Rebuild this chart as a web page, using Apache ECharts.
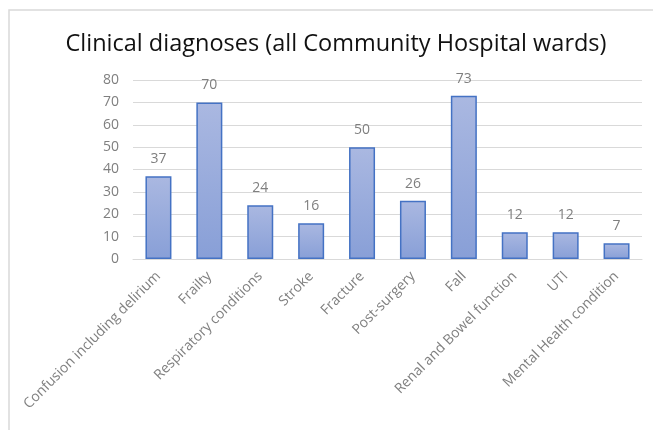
<!DOCTYPE html>
<html>
<head>
<meta charset="utf-8">
<script src="https://cdn.jsdelivr.net/npm/echarts@6/dist/echarts.min.js"></script>
<style>
  html, body { margin: 0; padding: 0; background: #ffffff; }
  #chart { width: 653px; height: 430px; }
</style>
</head>
<body>
<div id="chart"></div>
<script>
// Diagnosis categories and patient counts
const categories = [
  'Confusion including delirium',
  'Frailty',
  'Respiratory conditions',
  'Stroke',
  'Fracture',
  'Post-surgery',
  'Fall',
  'Renal and Bowel function',
  'UTI',
  'Mental Health condition'
];
const counts = [37, 70, 24, 16, 50, 26, 73, 12, 12, 7];
const yTicks = { min: 0, max: 80, interval: 10 };

const chart = echarts.init(document.getElementById('chart'), null, { renderer: 'canvas' });

const font = '"Open Sans", "Noto Sans", sans-serif';

chart.setOption({
  animation: false,
  backgroundColor: '#ffffff',
  graphic: [{
    type: 'rect',
    shape: { x: 9, y: 10, width: 700, height: 500 },
    style: { fill: 'none', stroke: '#d9d9d9', lineWidth: 1.5 },
    silent: true
  }],
  title: {
    text: 'Clinical diagnoses (all Community Hospital wards)',
    left: 331,
    textAlign: 'center',
    top: 27,
    textStyle: { fontFamily: font, fontSize: 23.5, fontWeight: 'normal', color: '#111111' }
  },
  grid: { left: 133, right: 11, top: 80, bottom: 171, containLabel: false },
  xAxis: {
    type: 'category',
    data: categories,
    axisLine: { show: true, lineStyle: { color: '#d9d9d9', width: 1 } },
    axisTick: { show: false },
    axisLabel: {
      interval: 0,
      rotate: 45,
      margin: 15,
      fontFamily: font,
      fontSize: 14,
      color: '#808080'
    }
  },
  yAxis: {
    type: 'value',
    min: yTicks.min,
    max: yTicks.max,
    interval: yTicks.interval,
    axisLine: { show: false },
    axisTick: { show: false },
    splitLine: { lineStyle: { color: '#d9d9d9', width: 1 } },
    axisLabel: { margin: 14, fontFamily: font, fontSize: 14, color: '#7f7f7f' }
  },
  series: [{
    type: 'bar',
    data: counts,
    barWidth: 26,
    itemStyle: {
      color: new echarts.graphic.LinearGradient(0, 0, 0, 1, [
        { offset: 0, color: '#aab8e1' },
        { offset: 1, color: '#889fd7' }
      ]),
      borderColor: '#4472c4',
      borderWidth: 1.5
    },
    label: {
      show: true,
      position: 'top',
      distance: 10,
      fontFamily: font,
      fontSize: 14,
      color: '#7f7f7f'
    }
  }]
});
</script>
</body>
</html>
